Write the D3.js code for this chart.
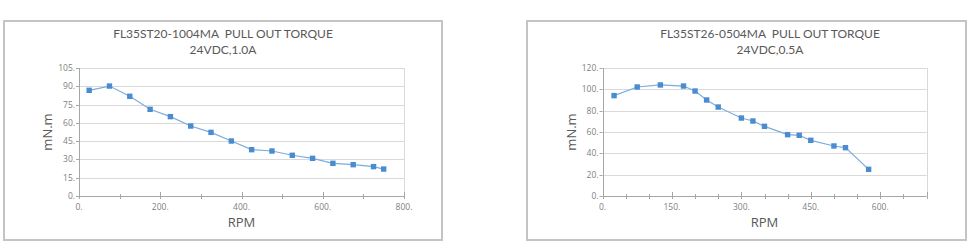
<!DOCTYPE html>
<html><head><meta charset="utf-8">
<script src="https://cdn.jsdelivr.net/npm/d3@7"></script>
<style>
html,body{margin:0;padding:0;background:#fff;}
svg{display:block;font-family:"Open Sans","Noto Sans",sans-serif;}
text{white-space:pre;}
.ttl{font-family:Lato,"Open Sans",sans-serif;}
</style></head>
<body><svg id="c" width="970" height="247"></svg>
<script>
// Chart 1: FL35ST20-1004MA
const title1 = ["FL35ST20-1004MA  PULL OUT TORQUE", "24VDC,1.0A"];
const rpm1 = [25,75,125,175,225,275,325,375,425,475,525,575,625,675,725,750];
const torque1 = [86.7,90.2,81.8,71.1,65.1,57.4,52.2,45.1,38.0,36.9,33.4,30.9,26.8,25.7,24.1,22.1];
const xTicks1 = [0,100,200,300,400,500,600,700,800];
const xLabels1 = [0,200,400,600,800];
const yTicks1 = [0,15,30,45,60,75,90,105];

// Chart 2: FL35ST26-0504MA
const title2 = ["FL35ST26-0504MA  PULL OUT TORQUE", "24VDC,0.5A"];
const rpm2 = [25,75,125,175,200,225,250,300,325,350,400,425,450,500,525,575];
const torque2 = [94.1,102.2,104.1,103.1,98.4,90.0,83.4,73.1,70.3,65.3,57.5,56.9,52.2,46.9,45.3,25.0];
const xTicks2 = [0,50,100,150,200,250,300,350,400,450,500,550,600,650,700];
const xLabels2 = [0,150,300,450,600];
const yTicks2 = [0,20,40,60,80,100,120];

const xTitle = "RPM", yTitle = "mN.m";

const svg = d3.select("#c");
const charts = [
  {title:title1, xs:rpm1, ys:torque1, xT:xTicks1, xL:xLabels1, yT:yTicks1, xMax:800, yMax:105,
   frame:[4,21,438,219], plot:[79,68,404,196], tcx:223},
  {title:title2, xs:rpm2, ys:torque2, xT:xTicks2, xL:xLabels2, yT:yTicks2, xMax:700, yMax:120,
   frame:[527,21,439,219], plot:[602.5,68,926.5,196], tcx:770}
];

charts.forEach(c => {
  const g = svg.append("g");
  g.append("rect").attr("x",c.frame[0]).attr("y",c.frame[1]).attr("width",c.frame[2]).attr("height",c.frame[3])
    .attr("fill","#fff").attr("stroke","#c4c4c4").attr("stroke-width",2);
  const [x0,y0,x1,y1] = c.plot;
  const x = d3.scaleLinear().domain([0,c.xMax]).range([x0,x1]);
  const y = d3.scaleLinear().domain([0,c.yMax]).range([y1,y0]);

  // gridlines
  g.selectAll(".gl").data(c.yT.filter(v=>v>0)).enter().append("line")
    .attr("x1",x0).attr("x2",x1).attr("y1",d=>Math.round(y(d))+0.5).attr("y2",d=>Math.round(y(d))+0.5)
    .attr("stroke","#d9d9d9").attr("stroke-width",1);
  // right border
  g.append("line").attr("x1",Math.round(x1)+0.5).attr("x2",Math.round(x1)+0.5).attr("y1",y0).attr("y2",y1)
    .attr("stroke","#d9d9d9");

  // y axis
  g.append("line").attr("x1",Math.round(x0)+0.5).attr("x2",Math.round(x0)+0.5).attr("y1",y0).attr("y2",y1+0.5)
    .attr("stroke","#a6a6a6");
  c.yT.forEach(v=>{
    const yy = Math.round(y(v))+0.5;
    g.append("line").attr("x1",x0-3).attr("x2",x0).attr("y1",yy).attr("y2",yy).attr("stroke","#a6a6a6");
    g.append("text").attr("x",x0-4).attr("y",yy).attr("dy","0.35em").attr("text-anchor","end")
      .attr("font-size",8.5).attr("fill","#808080").text(v+".");
  });
  // x axis
  g.append("line").attr("x1",x0).attr("x2",x1).attr("y1",Math.round(y1)+0.5).attr("y2",Math.round(y1)+0.5)
    .attr("stroke","#a6a6a6");
  c.xT.forEach(v=>{
    const xx = Math.round(x(v))+0.5;
    const major = c.xL.includes(v) || v===c.xMax;
    g.append("line").attr("x1",xx).attr("x2",xx).attr("y1",major? y1-4 : y1-2).attr("y2",y1+3).attr("stroke","#a6a6a6");
  });
  c.xL.forEach(v=>{
    g.append("text").attr("x",x(v)).attr("y",y1+13.5).attr("text-anchor","middle")
      .attr("font-size",8.5).attr("fill","#808080").text(v+".");
  });

  // titles
  g.append("text").attr("class","ttl").attr("x",c.tcx).attr("y",38).attr("text-anchor","middle").attr("font-size",12)
    .attr("fill","#595959").text(c.title[0]);
  g.append("text").attr("class","ttl").attr("x",c.tcx).attr("y",53.5).attr("text-anchor","middle").attr("font-size",12)
    .attr("fill","#595959").text(c.title[1]);
  g.append("text").attr("x",(x0+x1)/2).attr("y",227).attr("text-anchor","middle").attr("font-size",13)
    .attr("fill","#595959").text(xTitle);
  g.append("text").attr("transform",`translate(${x0-27},${(y0+y1)/2}) rotate(-90)`).attr("text-anchor","middle")
    .attr("font-size",13).attr("fill","#595959").text(yTitle);

  // series
  const pts = c.xs.map((v,i)=>[v,c.ys[i]]);
  g.append("path").datum(pts).attr("d",d3.line().x(d=>x(d[0])).y(d=>y(d[1])))
    .attr("fill","none").attr("stroke","#78ade0").attr("stroke-width",1.2);
  g.selectAll(".m").data(pts).enter().append("rect")
    .attr("x",d=>x(d[0])-2.7).attr("y",d=>y(d[1])-2.7).attr("width",5.4).attr("height",5.4)
    .attr("fill","#4a8ccf");
});
</script></body></html>
